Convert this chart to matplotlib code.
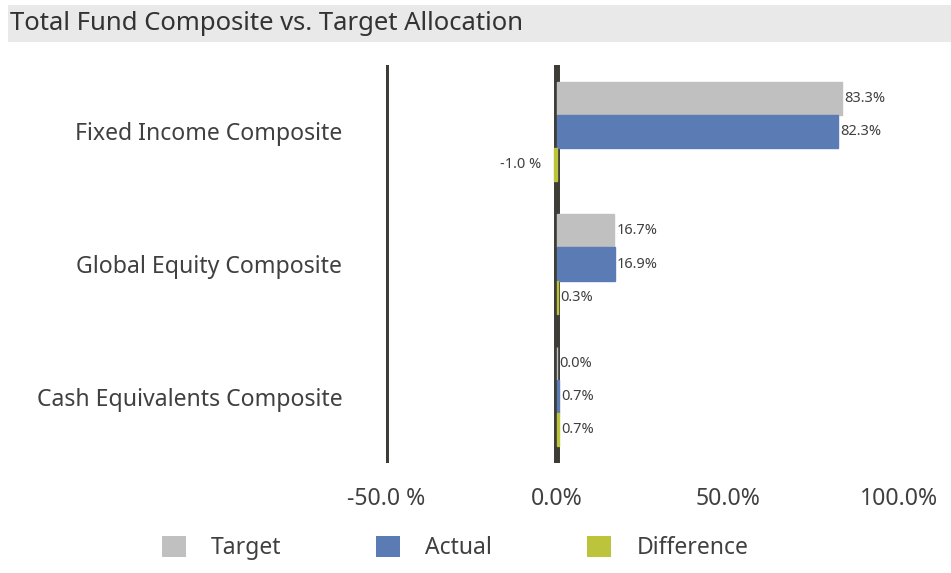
import matplotlib.pyplot as plt
from matplotlib.patches import Patch, Rectangle

plt.rcParams['font.family'] = ['Noto Sans', 'DejaVu Sans']

# Data
categories = ['Fixed Income Composite', 'Global Equity Composite', 'Cash Equivalents Composite']
target     = [83.3, 16.7, 0.0]
actual     = [82.3, 16.9, 0.7]
difference = [-1.0, 0.3, 0.7]
series_names  = ['Target', 'Actual', 'Difference']
series_colors = ['#c0c0c0', '#5b7bb4', '#bcc43c']
xticks      = [-50, 0, 50, 100]
xticklabels = ['-50.0 %', '0.0%', '50.0%', '100.0%']

text_color = '#404040'
W, H = 951, 573

fig = plt.figure(figsize=(W / 100, H / 100), dpi=100)

# Title band
fig.patches.append(Rectangle((8 / W, 1 - 42 / H), 1, 37 / H, transform=fig.transFigure,
                             facecolor='#e9e9e9', edgecolor='none', zorder=0))
fig.text(10 / W, 1 - 24 / H, 'Total Fund Composite vs. Target Allocation',
         fontsize=18.5, fontweight='medium', color='#333333', va='center', ha='left')

ax = fig.add_axes([386 / W, 1 - 463 / H, 554 / W, 398 / H])
ax.set_xlim(-50, 112)
ax.set_ylim(2.5, -0.5)

# vertical reference lines
for xv in (-50, 0):
    ax.axvline(xv, color='#3d3c37', lw=4.3, zorder=1)

h = 0.25
offsets = [-0.25, 0.0, 0.25]
for vals, off, col in zip([target, actual, difference], offsets, series_colors):
    ys = [i + off for i in range(len(categories))]
    ax.barh(ys, vals, height=h, color=col, edgecolor=col, lw=1.0, zorder=2)
    for y, v in zip(ys, vals):
        if v < 0:
            ax.annotate(f'{v:.1f} %', (v, y), xytext=(-9, 0), textcoords='offset points',
                        ha='right', va='center', fontsize=10.5, color=text_color)
        else:
            ax.annotate(f'{v:.1f}%', (v, y), xytext=(1.5, 0), textcoords='offset points',
                        ha='left', va='center', fontsize=10.5, color=text_color)

ax.set_yticks(range(len(categories)))
ax.set_yticklabels(categories, fontsize=16.6, color=text_color)
ax.tick_params(axis='y', length=0, pad=31.5)
ax.set_xticks(xticks)
ax.set_xticklabels(xticklabels, fontsize=16.6, color=text_color)
ax.tick_params(axis='x', length=0, pad=17)
for s in ax.spines.values():
    s.set_visible(False)

handles = [Patch(facecolor=c, edgecolor='none') for c in series_colors]
fig.legend(handles, series_names, loc='center', bbox_to_anchor=(455 / W, 1 - 548 / H),
           ncol=3, frameon=False, fontsize=16.5, handlelength=1.05, handleheight=1.05,
           handletextpad=1.09, columnspacing=4.15, labelcolor=text_color)

fig.savefig('out.png', dpi=100)
